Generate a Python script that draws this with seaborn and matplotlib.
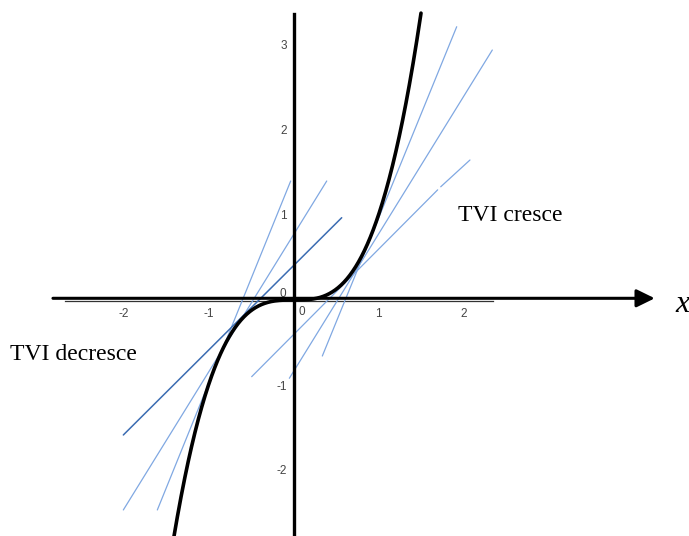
import numpy as np
import pandas as pd
import matplotlib
matplotlib.use("Agg")
import matplotlib.pyplot as plt
import seaborn as sns

# ---- data ----
curve_x_range = [-1.45, 1.50]          # y = x^3 is drawn over this span

# tangent / secant segments: start x, start y, end x, end y
light_x0 = [0.339, -0.049, -0.492, 1.732, -0.033, 0.391]
light_y0 = [-0.659, -0.921, -0.902, 1.332, 1.400, 1.400]
light_x1 = [1.920, 2.339, 1.696, 2.076, -1.602, -2.002]
light_y1 = [3.215, 2.941, 1.296, 1.647, -2.470, -2.470]

dark_x0 = [0.567]
dark_y0 = [0.968]
dark_x1 = [-2.002]
dark_y1 = [-1.588]

xtick_vals = [-2, -1, 1, 2]
xtick_labels = ["-2", "-1", "1", "2"]
ytick_vals = [-2, -1, 1, 2, 3]
ytick_labels = ["-2", "-1", "1", "2", "3"]

label_right = "TVI cresce"
label_left = "TVI decresce"
axis_name = "x"

# ---- figure ----
sns.set_style("white")
plt.rcParams["axes.unicode_minus"] = False
plt.rcParams["font.family"] = ["Liberation Sans", "DejaVu Sans"]

fig = plt.figure(figsize=(6.89, 5.36), dpi=100)
ax = fig.add_axes([0, 0, 1, 1])
ax.set_xlim(-293.5 / 85, (689 - 293.5) / 85)
ax.set_ylim(-(536 - 300) / 85, 300 / 85)

light = "#80a8e2"
dark = "#3b6cb2"

for a, b, c, d in zip(light_x0, light_y0, light_x1, light_y1):
    sns.lineplot(x=[a, c], y=[b, d], ax=ax, color=light, lw=0.9, zorder=3)
for a, b, c, d in zip(dark_x0, dark_y0, dark_x1, dark_y1):
    sns.lineplot(x=[a, c], y=[b, d], ax=ax, color=dark, lw=1.1, zorder=3)

xs = np.linspace(curve_x_range[0], curve_x_range[1], 600)
curve = pd.DataFrame({"x": xs, "y": xs ** 3})
sns.lineplot(data=curve, x="x", y="y", ax=ax, color="black", lw=2.6, zorder=4)

# thin axis (geogebra style) with ticks
for s in ["top", "right"]:
    ax.spines[s].set_visible(False)
ax.spines["bottom"].set_position(("data", -0.01))
ax.spines["bottom"].set_bounds(-2.69, 2.35)
ax.spines["bottom"].set_color("#333333")
ax.spines["bottom"].set_linewidth(0.9)
ax.spines["left"].set_position(("data", 0))
ax.spines["left"].set_bounds(-2.8, 3.36)
ax.spines["left"].set_color("black")
ax.spines["left"].set_linewidth(2.4)
ax.spines["left"].set_zorder(5)

ax.set_xticks(xtick_vals, xtick_labels)
ax.set_yticks(ytick_vals, ytick_labels)
ax.tick_params(axis="both", direction="out", length=2, width=0.6,
               color="#555555", labelsize=8.5, labelcolor="#444444", pad=3)
ax.set_xlabel("")
ax.set_ylabel("")

# origin labels
ax.text(-0.127, 0.07, "0", ha="center", va="center", fontsize=8.5, color="#444444")
ax.text(0.10, -0.14, "0", ha="center", va="center", fontsize=8.5, color="#444444")

# thick black x-axis with arrow
ax.annotate("", xy=(4.25, 0.02), xytext=(-2.83, 0.02),
            arrowprops=dict(arrowstyle="-|>,head_length=0.55,head_width=0.27",
                            mutation_scale=20, color="black", lw=2.2,
                            shrinkA=0, shrinkB=0),
            zorder=5)

ax.text(4.488, -0.138, axis_name, fontsize=23, family="Liberation Serif",
        style="italic", ha="left", va="baseline", color="black")
ax.text(1.935, 0.929, label_right, fontsize=17, family="Liberation Serif",
        ha="left", va="baseline", color="black")
ax.text(-3.335, -0.706, label_left, fontsize=17, family="Liberation Serif",
        ha="left", va="baseline", color="black")

fig.savefig("out.png", dpi=100)
